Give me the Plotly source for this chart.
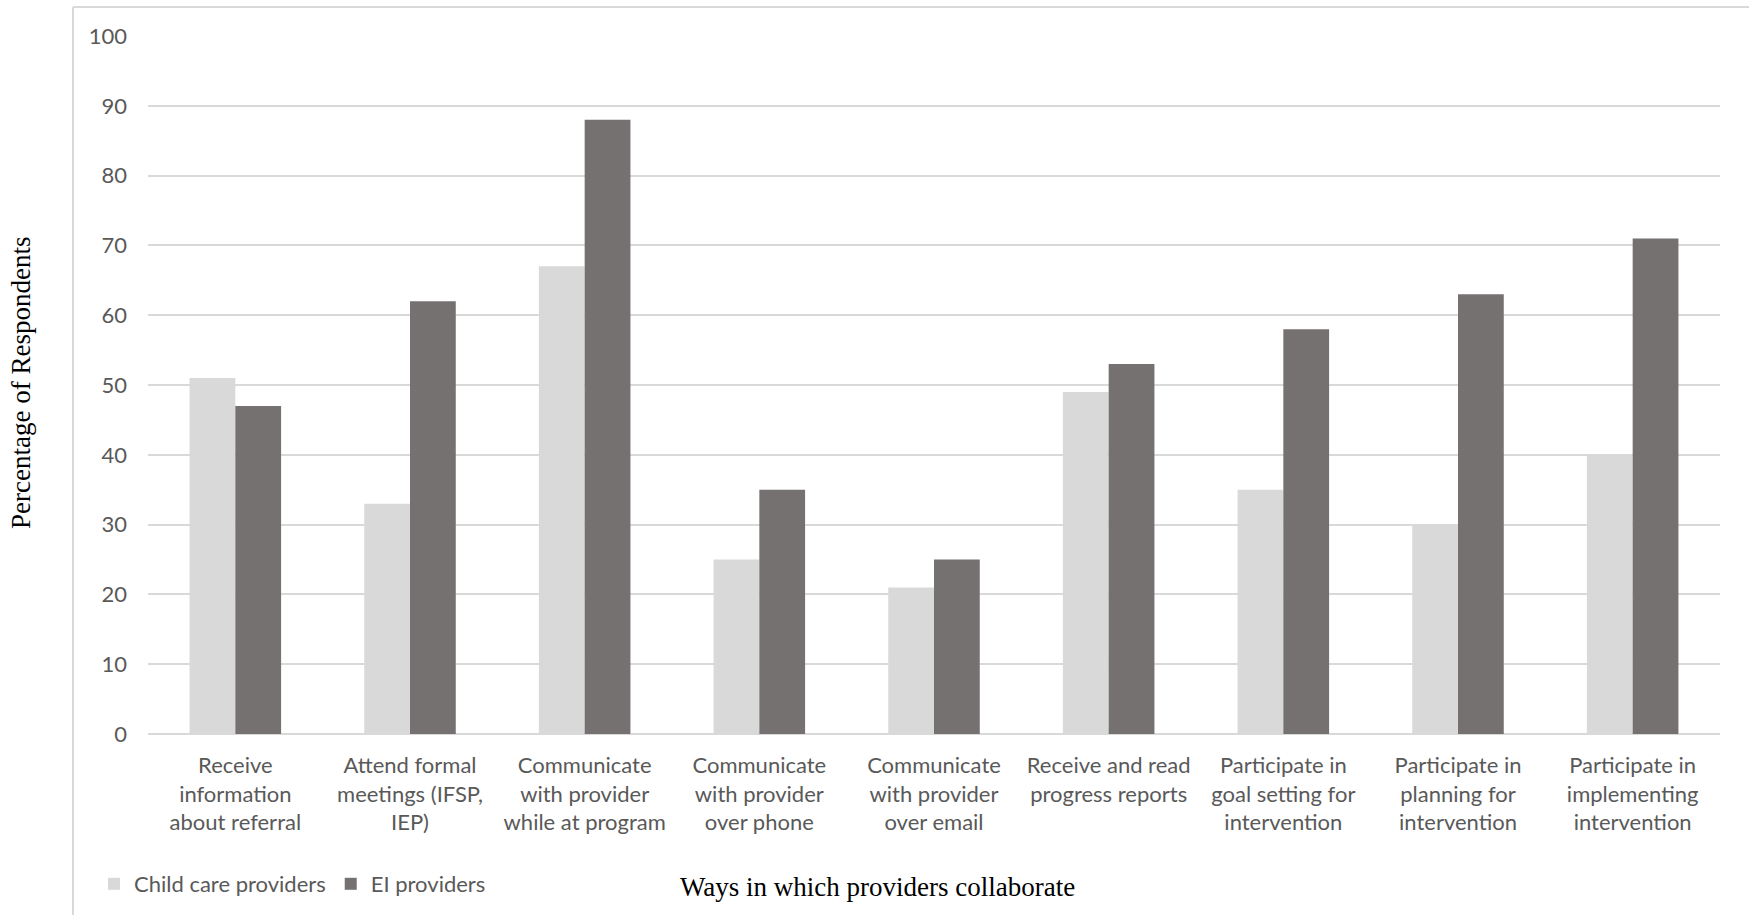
import plotly.graph_objects as go

# Survey results: share of respondents reporting each way of collaborating
categories = [
    "Receive<br>information<br>about referral",
    "Attend formal<br>meetings (IFSP,<br>IEP)",
    "Communicate<br>with provider<br>while at program",
    "Communicate<br>with provider<br>over phone",
    "Communicate<br>with provider<br>over email",
    "Receive and read<br>progress reports",
    "Participate in<br>goal setting for<br>intervention",
    "Participate in<br>planning for<br>intervention",
    "Participate in<br>implementing<br>intervention",
]
child_care = [51, 33, 67, 25, 21, 49, 35, 30, 40]
ei_providers = [47, 62, 88, 35, 25, 53, 58, 63, 71]
y_ticks = [0, 10, 20, 30, 40, 50, 60, 70, 80, 90, 100]

W, H = 1749, 915
L, R, T, B = 148, 29, 36, 181
plot_w = W - L - R
plot_h = H - T - B


def px_x(px):
    return (px - L) / plot_w


def px_y(py):
    return (H - B - py) / plot_h


sans = "Lato, Open Sans, sans-serif"
serif = "Liberation Serif, Times New Roman, serif"
label_grey = "#595959"
line_grey = "#D9D9D9"

fig = go.Figure()
fig.add_trace(go.Bar(name="Child care providers", x=categories, y=child_care,
                     marker=dict(color="#D9D9D9", line=dict(width=0))))
fig.add_trace(go.Bar(name="EI providers", x=categories, y=ei_providers,
                     marker=dict(color="#767171", line=dict(width=0))))

fig.update_layout(
    width=W, height=H,
    margin=dict(l=L, r=R, t=T, b=B, autoexpand=False),
    paper_bgcolor="white", plot_bgcolor="white",
    barmode="group", bargap=0.476, bargroupgap=0,
    font=dict(family=sans, size=22, color=label_grey),
    showlegend=True,
    legend=dict(orientation="h", x=px_x(94), xanchor="left",
                y=px_y(884), yanchor="middle",
                font=dict(family=sans, size=22, color=label_grey),
                bgcolor="rgba(0,0,0,0)", itemwidth=30, traceorder="normal"),
    xaxis=dict(showgrid=False, showline=False, ticks="", zeroline=False,
               ticklabelstandoff=16,
               tickfont=dict(family=sans, size=22, color=label_grey),
               fixedrange=True),
    yaxis=dict(range=[0, 100], tickvals=y_ticks, showgrid=True,
               gridcolor=line_grey, gridwidth=2, zeroline=True,
               zerolinecolor=line_grey, zerolinewidth=2, showline=False,
               ticks="", ticklabelstandoff=20,
               tickfont=dict(family=sans, size=22, color=label_grey),
               fixedrange=True),
    shapes=[
        dict(type="line", xref="paper", yref="paper",
             x0=px_x(73), x1=px_x(73), y0=px_y(7), y1=px_y(H + 2),
             line=dict(color=line_grey, width=2)),
        dict(type="line", xref="paper", yref="paper",
             x0=px_x(73), x1=px_x(W + 2), y0=px_y(7), y1=px_y(7),
             line=dict(color=line_grey, width=2)),
    ],
    annotations=[
        dict(text="Ways in which providers collaborate", xref="paper", yref="paper",
             x=px_x(877), y=px_y(887), xanchor="center", yanchor="middle",
             showarrow=False, font=dict(family=serif, size=27, color="black")),
        dict(text="Percentage of Respondents", xref="paper", yref="paper",
             x=px_x(21), y=px_y(383), xanchor="center", yanchor="middle",
             textangle=-90, showarrow=False,
             font=dict(family=serif, size=27, color="black")),
    ],
)

fig.write_html("out.html")
